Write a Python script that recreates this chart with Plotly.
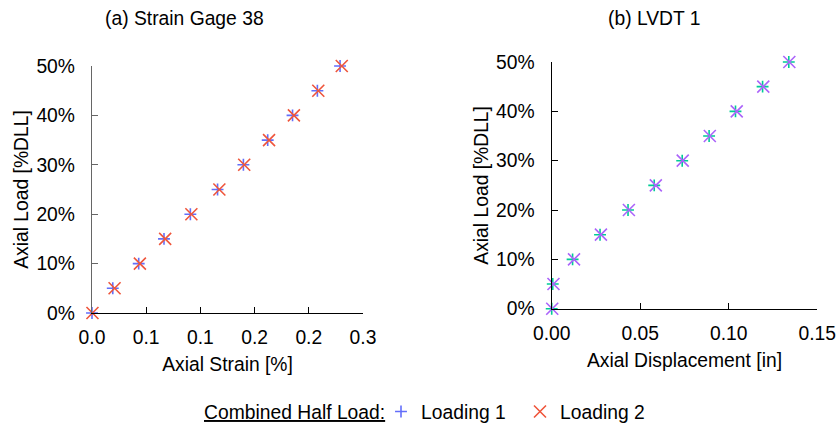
import plotly.graph_objects as go

# ---- data ----
load_pct = [0.00, 0.05, 0.10, 0.15, 0.20, 0.25, 0.30, 0.35, 0.40, 0.45, 0.50]

strain_loading1 = [0.000, 0.023, 0.0517, 0.0797, 0.1089, 0.139, 0.1676, 0.1945, 0.222, 0.2495, 0.2746]
strain_loading2 = [0.0005, 0.025, 0.053, 0.081, 0.110, 0.141, 0.1685, 0.196, 0.2235, 0.2505, 0.2765]

disp_loading1 = [0.000, 0.0006, 0.0118, 0.0273, 0.0431, 0.0579, 0.0737, 0.0889, 0.1038, 0.1191, 0.1339]
disp_loading2 = [0.0003, 0.0010, 0.0126, 0.0278, 0.0436, 0.0588, 0.0740, 0.0893, 0.1045, 0.1195, 0.1342]

strain_ticks = [0.0, 0.06, 0.12, 0.18, 0.24, 0.30]
disp_ticks = [0.0, 0.05, 0.10, 0.15]
load_ticks = [0.0, 0.1, 0.2, 0.3, 0.4, 0.5]

BLUE = "#4a7ebb"
RED = "#d04c4c"
FONT = "Liberation Sans, Arial, sans-serif"
FS = 19.3

W, H = 840, 424

fig = go.Figure()

def plus_marker():
    return dict(symbol="cross-thin-open", size=8.5, line=dict(color=BLUE, width=1.6))

def x_marker():
    return dict(symbol="x-thin-open", size=12, line=dict(color=RED, width=1.6))

fig.add_trace(go.Scatter(x=strain_loading1, y=load_pct, mode="markers", name="Loading 1",
                         marker=plus_marker(), cliponaxis=False,
                         xaxis="x", yaxis="y", legendgroup="l1"))
fig.add_trace(go.Scatter(x=strain_loading2, y=load_pct, mode="markers", name="Loading 2",
                         marker=x_marker(), cliponaxis=False,
                         xaxis="x", yaxis="y", legendgroup="l2"))
fig.add_trace(go.Scatter(x=disp_loading1, y=load_pct, mode="markers", name="Loading 1",
                         marker=plus_marker(), cliponaxis=False,
                         xaxis="x2", yaxis="y2", legendgroup="l1", showlegend=False))
fig.add_trace(go.Scatter(x=disp_loading2, y=load_pct, mode="markers", name="Loading 2",
                         marker=x_marker(), cliponaxis=False,
                         xaxis="x2", yaxis="y2", legendgroup="l2", showlegend=False))

def xd(a, b):
    return [a / W, b / W]

def yd(bottom_px, top_px):
    return [1 - bottom_px / H, 1 - top_px / H]

axis_common = dict(showgrid=False, zeroline=False, showline=True, ticks="inside", ticklen=6,
                   automargin=False, tickfont=dict(family=FONT, size=FS, color="#000"))

fig.update_layout(
    width=W, height=H,
    margin=dict(l=0, r=0, t=0, b=0, autoexpand=False),
    paper_bgcolor="white", plot_bgcolor="white",
    font=dict(family=FONT, size=FS, color="#000"),
    xaxis=dict(domain=xd(92, 363), anchor="y", range=[0, 0.3], tickvals=strain_ticks, tickformat=".1f",
               linecolor="#000", tickcolor="#000", linewidth=1.3, ticklabelstandoff=7,
               title=dict(text="Axial Strain [%]", standoff=10, font=dict(family=FONT, size=FS)),
               **axis_common),
    yaxis=dict(domain=yd(313, 66), anchor="x", range=[0, 0.5], tickvals=load_ticks, tickformat=".0%",
               linecolor="#666666", tickcolor="#666666", linewidth=1.3, ticklabelstandoff=12,
               title=dict(text="Axial Load [%DLL]", standoff=2, font=dict(family=FONT, size=FS)),
               **axis_common),
    xaxis2=dict(domain=xd(551.7, 817.3), anchor="y2", range=[0, 0.15], tickvals=disp_ticks, tickformat=".2f",
                linecolor="#000", tickcolor="#000", linewidth=1.3, ticklabelstandoff=7,
                title=dict(text="Axial Displacement [in]", standoff=10, font=dict(family=FONT, size=FS)),
                **axis_common),
    yaxis2=dict(domain=yd(308.7, 62), anchor="x2", range=[0, 0.5], tickvals=load_ticks, tickformat=".0%",
                linecolor="#000", tickcolor="#000", linewidth=1.3, ticklabelstandoff=12,
                title=dict(text="Axial Load [%DLL]", standoff=2, font=dict(family=FONT, size=FS)),
                **axis_common),
    legend=dict(orientation="h", x=381 / W, xanchor="left", y=1 - 412 / H, yanchor="middle",
                bgcolor="rgba(0,0,0,0)", entrywidth=94, entrywidthmode="pixels", itemwidth=30,
                font=dict(family=FONT, size=FS)),
    annotations=[
        dict(text="(a) Strain Gage 38", x=184 / W, y=1 - 18 / H, xref="paper", yref="paper",
             showarrow=False, xanchor="center", yanchor="middle", font=dict(family=FONT, size=FS)),
        dict(text="(b) LVDT 1", x=654 / W, y=1 - 18 / H, xref="paper", yref="paper",
             showarrow=False, xanchor="center", yanchor="middle", font=dict(family=FONT, size=FS)),
        dict(text="<u>Combined Half Load:</u>", x=202 / W, y=1 - 412 / H, xref="paper", yref="paper",
             showarrow=False, xanchor="left", yanchor="middle", font=dict(family=FONT, size=FS)),
    ],
)

fig.write_html("out.html", post_script="document.body.style.margin='0';",
               config={"displayModeBar": False})
